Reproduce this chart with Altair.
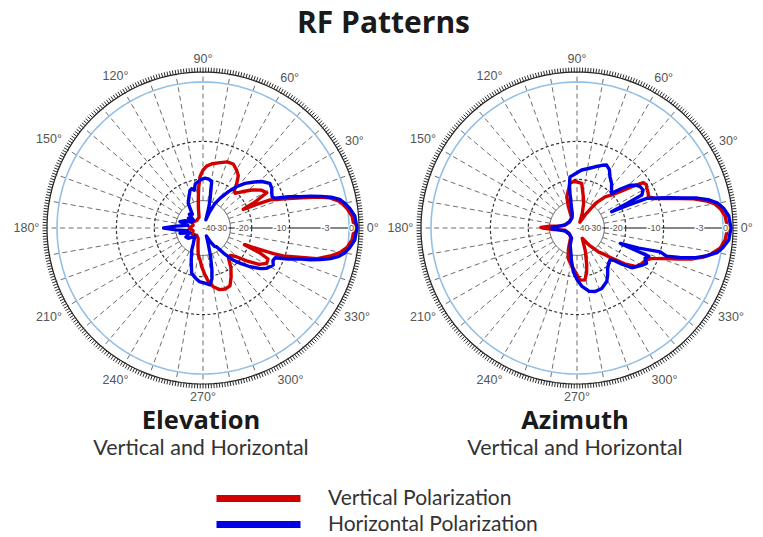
import altair as alt
import pandas as pd

# ---------------- data ----------------
TITLE = "RF Patterns"
PANELS = ["Elevation", "Azimuth"]
PANEL_SUBTITLE = "Vertical and Horizontal"
SERIES = ["Vertical Polarization", "Horizontal Polarization"]
SERIES_COLORS = ["#d10000", "#0000e6"]

ANGLE_TICKS = list(range(0, 360, 30))
DB_TICKS = [-40, -30, -20, -10, -3, 0]
DB_TICK_TEXT = ["-40", "-30", "-20", "-10", "-3", "0"]
DB_RINGS_DASHED = [-10, -20]
DB_RING_SOLID = [-30]

# Elevation, vertical polarization (red): angle (deg), level (dB)
ELEV_V_ANGLE = [-180, -165, -150, -130, -115, -105, -100, -95, -92, -88, -84, -80, -75, -70, -65,
                -60, -55, -50, -45, -41, -37, -33, -29, -25.5, -23.5, -22, -21, -20, -19.2, -17,
                -15, -12.4, -10, -7.7, -4.5, 0, 4.5, 7.7, 10, 11.3, 13.5, 15, 17, 19, 21, 22.7,
                23.8, 24.9, 26.5, 29, 33, 38, 43, 47.3, 50, 53, 56, 59.8, 64.7, 70, 76.8, 82,
                86.6, 90, 93.3, 96, 98.5, 103, 110, 130, 150, 165, 180]
ELEV_V_DB = [-42, -47, -44, -48, -45, -36, -30, -27, -24, -21, -18, -16.5, -15.3, -15, -15.3,
             -17.5, -20, -23.5, -24, -22, -18, -14.5, -13, -13.2, -16, -21.5, -17, -12.5, -10.3, -7.5,
             -4.6, -2.9, -1.7, -1.0, -0.5, -0.3, -0.5, -1.0, -1.5, -1.9, -3.0, -4.4, -7.0, -9.2, -11.3, -13,
             -17, -21.6, -17, -13, -13.8, -15.9, -18.5, -20.5, -20, -17.5, -15.5, -14.5, -13.5, -13.6, -14.5, -15,
             -15.8, -17, -19, -23, -27.5, -35, -45, -48, -44, -47, -42]

# Elevation, horizontal polarization (blue)
ELEV_H_ANGLE = [-180, -176, -170, -167, -160, -152, -145, -135, -122, -117, -110, -104, -99, -94, -88,
                -83, -80, -78, -75, -72, -67, -62, -58, -54, -50, -46.6, -43, -39.5, -35, -32.3,
                -27.8, -25, -22.4, -20, -17.9, -16.5, -15, -13.5, -11.8, -10, -7.7, -4.5, 0, 4.5, 7.7,
                10, 11.8, 13.5, 15, 16.5, 17.9, 20, 22.4, 24.3, 27, 30, 33.7, 38.3, 42, 46.8,
                51, 55, 60, 64, 68, 71, 74, 76, 79.4, 83, 87.7, 92, 95.8, 100, 103,
                106, 109, 114, 121, 128, 135, 141, 146, 152, 158, 164.7, 170, 176, 180]
ELEV_H_DB = [-23.7, -30, -40, -32.6, -42, -36, -37.3, -45, -37, -31.8, -26, -20.7, -19.4, -18.3, -17.8,
             -17.2, -19, -22.2, -29, -38, -50, -40, -34, -33, -26, -21.6, -18.8, -16.1, -13.5, -12.4,
             -11.5, -12.0, -11.8, -9.2, -7.4, -5.6, -4.1, -2.8, -1.8, -1.2, -0.7, -0.2, 0, -0.2, -0.7,
             -1.2, -1.7, -2.7, -4.0, -5.5, -7.2, -9.1, -11.8, -12.3, -12.0, -11.5, -11.3, -12.5, -14, -16,
             -18.5, -21.6, -26, -30, -38, -50, -35, -29, -20.6, -19.8, -19.6, -20, -20.8, -21.5, -24,
             -23, -23.5, -26, -29.2, -38, -36, -44, -37.7, -44, -36, -32.4, -40, -30, -23.7]

# Azimuth, vertical polarization (red)
AZIM_V_ANGLE = [-180, -176, -170, -150, -125, -112, -106, -100, -92.6, -86.7, -81.3, -78, -75.3, -70, -63,
                -55, -48, -43.6, -41, -37, -33, -29, -25, -22.5, -21.2, -19, -17, -15, -13, -11,
                -8, -4.5, 0, 4.5, 7.7, 10, 12, 14, 16, 18, 20.5, 23.7, 26.5, 29.7, 32,
                34.3, 37, 40.2, 44, 48, 53, 58, 64, 70, 75, 78.6, 84, 90.4, 95, 98.9,
                103, 108, 112, 118, 140, 165, 172, 176, 179, 180]
AZIM_V_DB = [-26, -33, -44, -48, -46, -33, -27.5, -25, -22, -18.8, -18.7, -21, -24.2, -32, -45,
             -35, -27, -24, -21, -16.5, -13.5, -12.8, -12.3, -11.4, -10.4, -8.6, -6.5, -4.4, -3.0, -2.1,
             -1.1, -0.6, -0.4, -0.6, -1.1, -1.7, -2.8, -4.3, -6.3, -8.3, -10.5, -11.8, -11.5, -11.3, -11.0,
             -11.3, -14, -17.5, -20.5, -22.6, -28, -40, -55, -40, -31, -27.3, -21.4, -20.9, -20.8, -21.3,
             -24, -26.8, -33, -45, -48, -44, -40, -30, -25.2, -26]

# Azimuth, horizontal polarization (blue)
AZIM_H_ANGLE = [-180, -178, -175, -165, -140, -118, -112, -106, -100, -94.8, -90, -85.4, -79, -74, -67.7,
                -61, -57, -52.7, -48, -44, -41, -39, -36, -30, -27, -24, -21.5, -21, -19.6, -18,
                -16, -17.5, -16, -14, -12, -10, -7.7, -4.5, 0, 4.5, 7.7, 10, 12.2, 14, 16,
                18, 20.5, 23, 24.2, 25.2, 26.2, 27, 30, 33.2, 36, 39, 42, 45, 48, 52,
                57.3, 61, 64.8, 68, 73.6, 79, 85.4, 90, 94, 97.8, 100, 101.4, 104, 108, 115,
                140, 165, 175, 178, 180]
AZIM_H_DB = [-31.5, -31.6, -36, -44, -48, -45, -37, -33, -27, -21.8, -19, -16.9, -15.1, -14.7, -14.9,
             -16, -17.5, -19.3, -20.5, -21, -19.6, -17.2, -14.3, -12.6, -11.8, -12.6, -12, -15, -21, -15,
             -10, -8.6, -6.4, -4.0, -2.5, -1.4, -0.8, -0.2, 0, -0.2, -0.7, -1.3, -2.4, -3.8, -6.0,
             -7.9, -10.2, -12.3, -18, -24.2, -18, -13, -12.2, -12.4, -13, -14.2, -17, -19.9, -19, -17.5,
             -16.1, -14.5, -13.8, -14.3, -15.3, -16.2, -16.9, -17.8, -18.5, -19, -22, -25.6, -32, -40, -45,
             -48, -44, -36, -31.6, -31.5]

CURVES = [
    ("Elevation", SERIES[0], ELEV_V_ANGLE, ELEV_V_DB),
    ("Elevation", SERIES[1], ELEV_H_ANGLE, ELEV_H_DB),
    ("Azimuth", SERIES[0], AZIM_V_ANGLE, AZIM_V_DB),
    ("Azimuth", SERIES[1], AZIM_H_ANGLE, AZIM_H_DB),
]

# ---------------- layout / style ----------------
W, H = 747, 527
CX = {"Elevation": 195, "Azimuth": 569}
CY = 220
R0 = 154          # pixel radius of 0 dB
R_OUTER = 156     # outer tick ring
R_TICK = 160.5
R_REF = 146       # light blue reference ring
R_ZERO_LINE = 150

curve_rows = []
for panel, series, angs, dbs in CURVES:
    for i, (a, d) in enumerate(zip(angs, dbs)):
        curve_rows.append({"panel": panel, "series": series, "idx": i, "angle": a, "db": d})
curves_df = pd.DataFrame(curve_rows)

ring_rows = []
for panel in PANELS:
    for db in DB_RINGS_DASHED + DB_RING_SOLID:
        for i, a in enumerate(range(0, 361, 3)):
            ring_rows.append({"panel": panel, "db": db, "idx": i, "angle": a,
                              "style": "solid" if db in DB_RING_SOLID else "dashed"})
rings_df = pd.DataFrame(ring_rows)

px_ring_rows = []
for panel in PANELS:
    for name, rp in (("outer", R_OUTER), ("ref", R_REF)):
        for i, a in enumerate(range(0, 361, 2)):
            px_ring_rows.append({"panel": panel, "ring": name, "rpx": rp, "idx": i, "angle": a})
px_rings_df = pd.DataFrame(px_ring_rows)

ticks_df = pd.DataFrame([{"panel": p, "angle": a} for p in PANELS for a in range(0, 360, 1)])
radials_df = pd.DataFrame([{"panel": p, "angle": a} for p in PANELS for a in range(10, 360, 10)])
zero_df = pd.DataFrame([{"panel": p, "angle": 0} for p in PANELS])
dblab_df = pd.DataFrame([{"panel": p, "db": d, "label": t, "angle": 0}
                         for p in PANELS for d, t in zip(DB_TICKS, DB_TICK_TEXT)])
anglab_df = pd.DataFrame([{"panel": p, "angle": a, "label": f"{a}\u00b0"}
                          for p in PANELS for a in ANGLE_TICKS])
ptitle_df = pd.DataFrame([{"panel": p, "title": p, "sub": PANEL_SUBTITLE} for p in PANELS])
title_df = pd.DataFrame({"t": [TITLE]})

CXE = f"(datum.panel == 'Elevation' ? {CX['Elevation']} : {CX['Azimuth']})"
RDB = f"({R0} * pow(10, datum.db / 40))"


def px(r):
    return f"{CXE} + ({r}) * cos(datum.angle * PI / 180)"


def py(r):
    return f"{CY} - ({r}) * sin(datum.angle * PI / 180)"


xs = alt.Scale(domain=[0, W], nice=False, zero=False)
ys = alt.Scale(domain=[0, H], nice=False, zero=False, reverse=True)
X = alt.X("x:Q", scale=xs, axis=None)
Y = alt.Y("y:Q", scale=ys, axis=None)
X2 = alt.X2("x2:Q")
Y2 = alt.Y2("y2:Q")

# grid rings (dB)
dashed_rings = alt.Chart(rings_df).transform_filter(alt.datum.style == "dashed").transform_calculate(
    x=px(RDB), y=py(RDB), key="datum.panel + datum.db"
).mark_line(color="#333333", strokeWidth=1.2, strokeDash=[3, 2.5]).encode(
    x=X, y=Y, detail="key:N", order="idx:Q")

solid_rings = alt.Chart(rings_df).transform_filter(alt.datum.style == "solid").transform_calculate(
    x=px(RDB), y=py(RDB), key="datum.panel + datum.db"
).mark_line(color="#666666", strokeWidth=1).encode(
    x=X, y=Y, detail="key:N", order="idx:Q")

outer_ring = alt.Chart(px_rings_df).transform_filter(alt.datum.ring == "outer").transform_calculate(
    x=px("datum.rpx"), y=py("datum.rpx")
).mark_line(color="#222222", strokeWidth=1.2).encode(x=X, y=Y, detail="panel:N", order="idx:Q")

ref_ring = alt.Chart(px_rings_df).transform_filter(alt.datum.ring == "ref").transform_calculate(
    x=px("datum.rpx"), y=py("datum.rpx")
).mark_line(color="#94bfe6", strokeWidth=1.6).encode(x=X, y=Y, detail="panel:N", order="idx:Q")

ticks = alt.Chart(ticks_df).transform_calculate(
    x=px(R_OUTER), y=py(R_OUTER), x2=px(R_TICK), y2=py(R_TICK)
).mark_rule(color="#2a2a2a", strokeWidth=1.0).encode(x=X, y=Y, x2=X2, y2=Y2)

R_RAD_IN = f"({R0} * pow(10, -30 / 40))"
radials = alt.Chart(radials_df).transform_calculate(
    x=px(R_RAD_IN), y=py(R_RAD_IN), x2=px(R_OUTER), y2=py(R_OUTER)
).mark_rule(color="#6e6e6e", strokeWidth=1, strokeDash=[5, 3.5]).encode(x=X, y=Y, x2=X2, y2=Y2)

zero_line = alt.Chart(zero_df).transform_calculate(
    x=px(0), y=py(0), x2=px(R_ZERO_LINE), y2=py(R_ZERO_LINE)
).mark_rule(color="#111111", strokeWidth=1.1).encode(x=X, y=Y, x2=X2, y2=Y2)

color_enc = alt.Color(
    "series:N",
    scale=alt.Scale(domain=SERIES, range=SERIES_COLORS),
    legend=alt.Legend(
        title=None, orient="none", legendX=205, legendY=477.75, padding=0,
        symbolType="stroke", symbolSize=7056, symbolStrokeWidth=7,
        clipHeight=25.5, rowPadding=0, labelOffset=24,
        labelFont="Lato", labelFontSize=21, labelColor="#333333",
        labelLimit=400,
    ),
)


def curve_layer(series_name):
    return alt.Chart(curves_df).transform_filter(alt.datum.series == series_name).transform_calculate(
        x=px(RDB), y=py(RDB)
    ).mark_line(strokeWidth=3.4, strokeJoin="round", strokeCap="round").encode(
        x=X, y=Y, color=color_enc, detail="panel:N", order="idx:Q")


red_curves = curve_layer(SERIES[0])
blue_curves = curve_layer(SERIES[1])

dblab_calc = dict(x=f"{CXE} + {RDB} - 3", y=f"{CY}")
dblab_halo = alt.Chart(dblab_df).transform_calculate(**dblab_calc).mark_text(
    align="right", baseline="middle", font="Liberation Sans", fontSize=9,
    fill="white", stroke="white", strokeWidth=2.5
).encode(x=X, y=Y, text="label:N")
dblab = alt.Chart(dblab_df).transform_calculate(**dblab_calc).mark_text(
    align="right", baseline="middle", font="Liberation Sans", fontSize=9, color="#555555"
).encode(x=X, y=Y, text="label:N")

RLAB = "(163 + abs(cos(datum.angle * PI / 180)) * length(datum.label) * 3.4 + abs(sin(datum.angle * PI / 180)) * 6)"
anglab = alt.Chart(anglab_df).transform_calculate(x=px(RLAB), y=py(RLAB)).mark_text(
    align="center", baseline="middle", font="Liberation Sans", fontSize=12.5, color="#555555"
).encode(x=X, y=Y, text="label:N")

ptitle = alt.Chart(ptitle_df).transform_calculate(x=f"{CXE} - 2", y="421").mark_text(
    align="center", baseline="alphabetic", font="Open Sans", fontWeight="bold", fontSize=25.5,
    color="#1a1a1a"
).encode(x=X, y=Y, text="title:N")
psub = alt.Chart(ptitle_df).transform_calculate(x=f"{CXE} - 2", y="447").mark_text(
    align="center", baseline="alphabetic", font="Lato", fontSize=21.5, color="#333333"
).encode(x=X, y=Y, text="sub:N")

title = alt.Chart(title_df).transform_calculate(x="375.5", y="25.3").mark_text(
    align="center", baseline="alphabetic", font="Open Sans", fontWeight="bold", fontSize=30,
    color="#1a1a1a"
).encode(x=X, y=Y, text="t:N")

chart = alt.layer(
    radials, solid_rings, dashed_rings, ref_ring, outer_ring, ticks, zero_line,
    red_curves, blue_curves, dblab_halo, dblab, anglab, ptitle, psub, title
).properties(
    width=W, height=H, autosize=alt.AutoSizeParams(type="none"), padding=0
).configure(background="white", view=alt.ViewConfig(stroke=None))

chart.save("out.html", embed_options={"renderer": "svg", "actions": False})
